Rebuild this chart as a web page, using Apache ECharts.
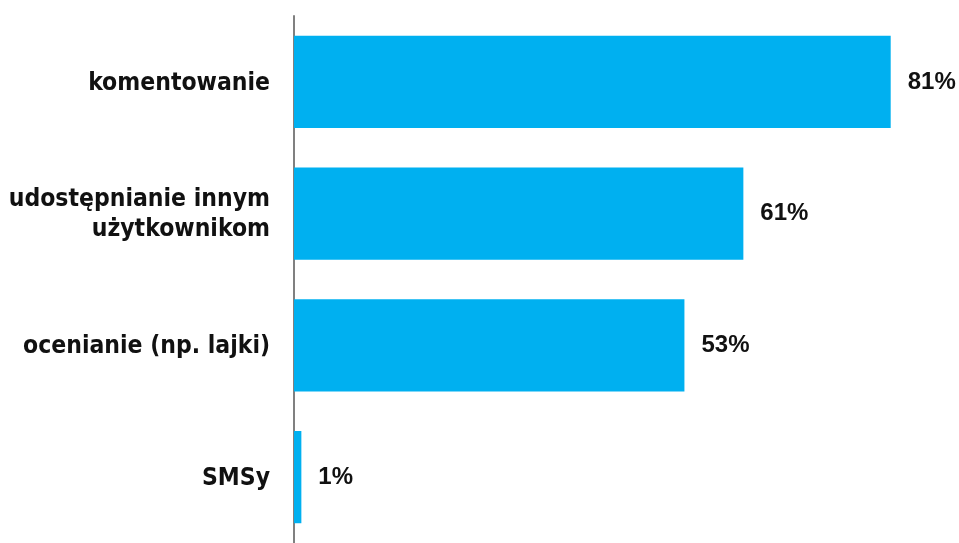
<!DOCTYPE html>
<html>
<head>
<meta charset="utf-8">
<script src="https://cdn.jsdelivr.net/npm/echarts@6/dist/echarts.min.js"></script>
<style>
  html, body { margin: 0; padding: 0; background: #fff; }
  #chart { width: 959px; height: 543px; }
</style>
</head>
<body>
<div id="chart"></div>
<script>
const categories = ['komentowanie', 'udostępnianie innym\nużytkownikom', 'ocenianie (np. lajki)', 'SMSy'];
const values = [81, 61, 53, 1];

const catFont = '"DejaVu Sans Condensed", "DejaVu Sans", sans-serif';

const myChart = echarts.init(document.getElementById('chart'));
myChart.setOption({
  animation: false,
  grid: { left: 294, width: 663, top: 16, height: 533 },
  xAxis: {
    type: 'value',
    min: 0,
    max: 90,
    show: false
  },
  yAxis: {
    type: 'category',
    inverse: true,
    data: categories,
    axisLine: { show: true, lineStyle: { color: '#808080', width: 2 } },
    axisTick: { show: false },
    axisLabel: {
      margin: 24,
      align: 'right',
      // each line as its own token so a top padding nudges the text down a little
      formatter: (v) => v.split('\n').map((s) => '{a|' + s + '}').join('\n'),
      rich: {
        a: {
          color: '#111',
          fontFamily: catFont,
          fontWeight: 'bold',
          fontSize: 24.5,
          lineHeight: 30,
          padding: [3, 0, 0, 0]
        }
      }
    }
  },
  series: [{
    type: 'bar',
    data: values,
    barCategoryGap: '30%',
    itemStyle: { color: '#00B0F0' },
    label: {
      show: true,
      position: 'right',
      distance: 17,
      formatter: '{c}%',
      color: '#111',
      fontFamily: 'Liberation Sans',
      fontWeight: 'bold',
      fontSize: 24
    }
  }]
});
</script>
</body>
</html>
